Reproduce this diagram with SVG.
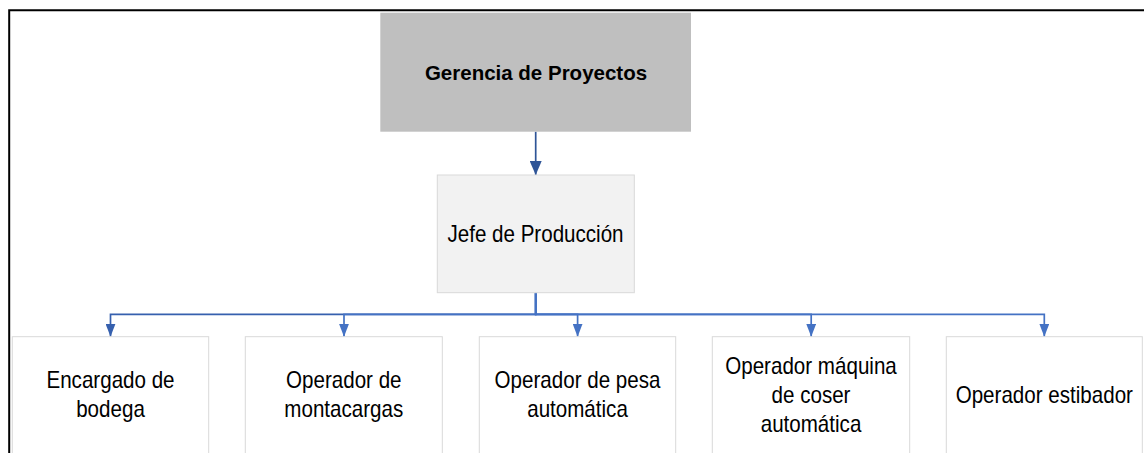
<svg xmlns="http://www.w3.org/2000/svg" width="1144" height="453" viewBox="0 0 1144 453">
  <style>
    .lbl { font-family: "Liberation Sans", Arial, sans-serif; font-size: 23px; fill: #000; text-anchor: middle; }
    .bold { font-weight: bold; font-size: 20.5px; }
    .child { fill: #ffffff; stroke: #d9d9d9; stroke-width: 1; }
    .conn { fill: none; stroke-width: 1.7; }
  </style>
  <defs>
    <marker id="ahTop" markerUnits="userSpaceOnUse" markerWidth="14" markerHeight="12" refX="14" refY="6" orient="auto">
      <path d="M0,0 L14,6 L0,12 z" fill="#2f5597"/>
    </marker>
    <marker id="ahDark" markerUnits="userSpaceOnUse" markerWidth="13" markerHeight="10" refX="13" refY="5" orient="auto">
      <path d="M0,0 L13,5 L0,10 z" fill="#3660ae"/>
    </marker>
    <marker id="ah" markerUnits="userSpaceOnUse" markerWidth="13" markerHeight="10" refX="13" refY="5" orient="auto">
      <path d="M0,0 L13,5 L0,10 z" fill="#4472c4"/>
    </marker>
  </defs>
  <rect width="1144" height="453" fill="#ffffff"/>
  <g id="frame">
    <path d="M1144,10.2 H9.2 V453" fill="none" stroke="#000" stroke-width="2"/>
  </g>
  <g id="connectors">
    <path class="conn" stroke="#2f5597" d="M535.7,131.7 V175" marker-end="url(#ahTop)"/>
    <path class="conn" stroke="#3660ae" d="M535.7,292.7 V314.3 H110.5 V336.7" marker-end="url(#ahDark)"/>
    <path class="conn" stroke="#4472c4" d="M535.7,292.7 V314.3 H344 V336.7" marker-end="url(#ah)"/>
    <path class="conn" stroke="#4472c4" d="M535.7,292.7 V314.3 H577.6 V336.7" marker-end="url(#ah)"/>
    <path class="conn" stroke="#4472c4" d="M535.7,292.7 V314.3 H811.2 V336.7" marker-end="url(#ah)"/>
    <path class="conn" stroke="#4472c4" d="M535.7,292.7 V314.3 H1044.3 V336.7" marker-end="url(#ah)"/>
  </g>
  <g id="gerencia">
    <rect x="380.3" y="12.7" width="310.7" height="119" fill="#bfbfbf"/>
    <text class="lbl bold" x="536" y="80">Gerencia de Proyectos</text>
  </g>
  <g id="jefe">
    <rect x="437.3" y="175" width="197" height="117.7" fill="#f2f2f2" stroke="#d9d9d9" stroke-width="1"/>
    <text class="lbl" transform="translate(535.5,242.3) scale(0.895,1)">Jefe de Producción</text>
  </g>
  <g id="encargado">
    <rect class="child" x="12.3" y="336.7" width="196.4" height="122"/>
    <text class="lbl" transform="translate(110.5,388.3) scale(0.895,1)"><tspan x="0">Encargado de</tspan><tspan x="0" dy="28.7">bodega</tspan></text>
  </g>
  <g id="montacargas">
    <rect class="child" x="245.3" y="336.7" width="197" height="122"/>
    <text class="lbl" transform="translate(343.8,388.3) scale(0.895,1)"><tspan x="0">Operador de</tspan><tspan x="0" dy="28.7">montacargas</tspan></text>
  </g>
  <g id="pesa">
    <rect class="child" x="479.3" y="336.7" width="196.4" height="122"/>
    <text class="lbl" transform="translate(577.5,388.3) scale(0.895,1)"><tspan x="0">Operador de pesa</tspan><tspan x="0" dy="28.7">automática</tspan></text>
  </g>
  <g id="coser">
    <rect class="child" x="712.3" y="336.7" width="197.4" height="122"/>
    <text class="lbl" transform="translate(811,374.3) scale(0.895,1)"><tspan x="0">Operador máquina</tspan><tspan x="0" dy="28.7">de coser</tspan><tspan x="0" dy="28.7">automática</tspan></text>
  </g>
  <g id="estibador">
    <rect class="child" x="946.3" y="336.7" width="196" height="122"/>
    <text class="lbl" transform="translate(1044.3,403.3) scale(0.895,1)">Operador estibador</text>
  </g>
</svg>
